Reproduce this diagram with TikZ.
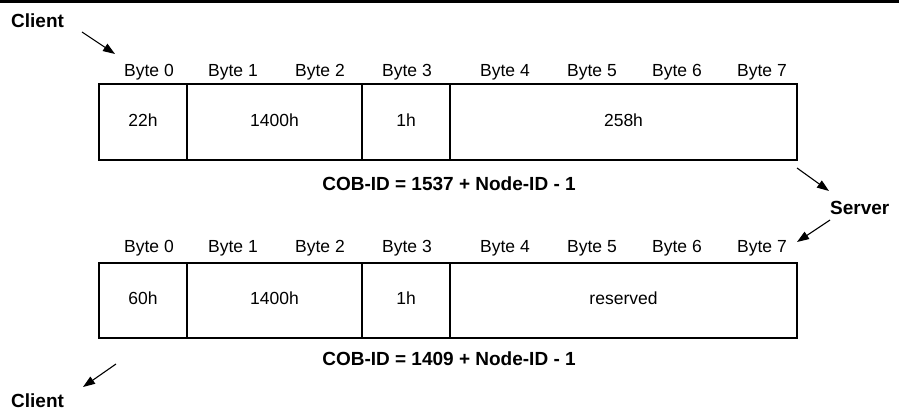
\documentclass[tikz,border=0pt]{standalone}
\usepackage{fontspec}
\setmainfont{Liberation Sans}
\usetikzlibrary{arrows.meta, positioning}

\begin{document}
\begin{tikzpicture}[x=1pt, y=-1pt,
    cell/.style={rectangle, draw, line width=1.2pt, inner sep=0pt, outer sep=0pt,
      text height=13pt, text depth=4pt, font=\fontsize{17.5}{20}\selectfont},
    lbl/.style={anchor=base, inner sep=0pt, font=\fontsize{17.5}{20}\selectfont},
    bold/.style={anchor=base, inner sep=0pt, font=\fontsize{19}{22}\selectfont\bfseries},
    arr/.style={-{Triangle[length=12pt, width=8.5pt]}, line width=1.1pt}]
  \useasboundingbox (0,0) rectangle (899,411);
  \draw[line width=2.5pt] (0,1.5) -- (899,1.5);
  % request
  \node[cell, minimum width=88pt, minimum height=76pt] (a0) at (143,122) {22h};
  \node[cell, minimum width=175pt, minimum height=76pt, right=0pt of a0] (a1) {1400h};
  \node[cell, minimum width=88pt, minimum height=76pt, right=0pt of a1] (a2) {1h};
  \node[cell, minimum width=347pt, minimum height=76pt, right=0pt of a2] (a3) {258h};
  % response
  \node[cell, minimum width=88pt, minimum height=75pt] (b0) at (143,300.5) {60h};
  \node[cell, minimum width=175pt, minimum height=75pt, right=0pt of b0] (b1) {1400h};
  \node[cell, minimum width=88pt, minimum height=75pt, right=0pt of b1] (b2) {1h};
  \node[cell, minimum width=347pt, minimum height=75pt, right=0pt of b2] (b3) {reserved};
  \foreach \x [count=\i from 0] in {149,233,320,407,505,592,677,762} {
    \node[lbl] (ta\i) at (\x,76.5) {Byte \i};
    \node[lbl] (tb\i) at (\x,253) {Byte \i};
  }
  \node[bold] (cob1) at (449,191) {COB-ID = 1537 + Node-ID - 1};
  \node[bold] (cob2) at (449,365) {COB-ID = 1409 + Node-ID - 1};
  \node[bold, anchor=base west] (cl1) at (11,28) {Client};
  \node[bold, anchor=base west] (srv) at (830,215) {Server};
  \node[bold, anchor=base west] (cl2) at (11,407) {Client};
  \coordinate (cl1s) at (82,32);  \coordinate (cl1e) at (115,54);
  \coordinate (sv1s) at (797,168); \coordinate (sv1e) at (829,191);
  \coordinate (sv2s) at (830,220); \coordinate (sv2e) at (797,242);
  \coordinate (cl2s) at (116,364); \coordinate (cl2e) at (83,387);
  \draw[arr] (cl1s) -- (cl1e); \draw[arr] (sv1s) -- (sv1e);
  \draw[arr] (sv2s) -- (sv2e); \draw[arr] (cl2s) -- (cl2e);
\end{tikzpicture}
\end{document}
